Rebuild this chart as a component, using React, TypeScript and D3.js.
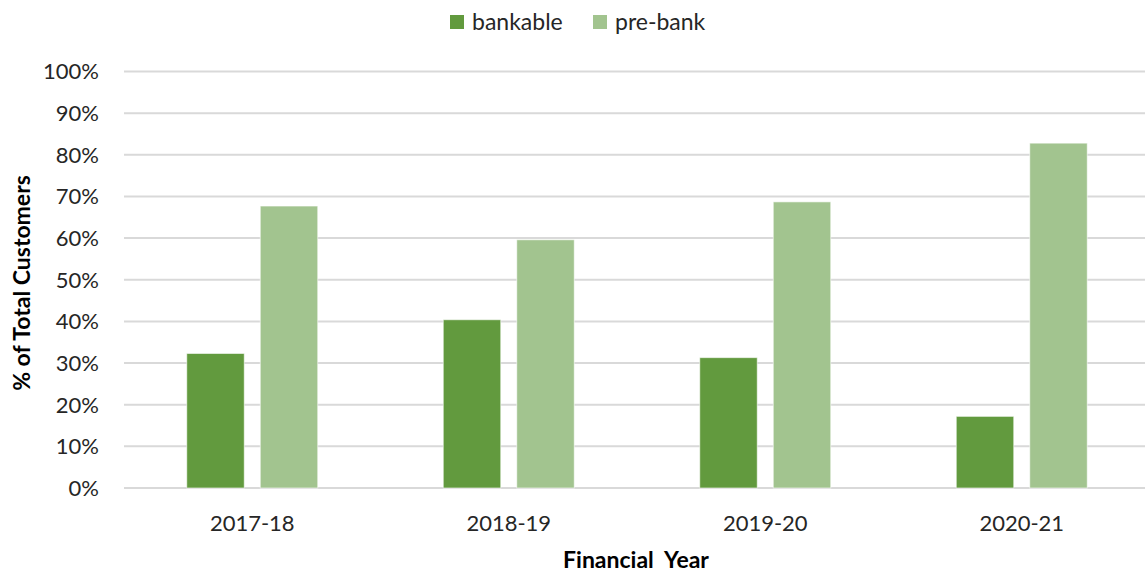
import React from "react";
import * as d3 from "d3";

const categories = ["2017-18", "2018-19", "2019-20", "2020-21"];
const bankable = [32.3, 40.4, 31.3, 17.2];
const prebank = [67.7, 59.6, 68.7, 82.8];
const yTicks = [0, 10, 20, 30, 40, 50, 60, 70, 80, 90, 100];
const seriesNames = ["bankable", "pre-bank"];
const colors = ["#629A3E", "#A2C48F"];

const W = 1145;
const H = 572;
const FONT = "Lato, 'Open Sans', sans-serif";

export default function App() {
  const x = d3.scaleBand<string>().domain(categories).range([124, 1150]).paddingInner(0).paddingOuter(0);
  const y = d3.scaleLinear().domain([0, 100]).range([488, 71.5]);
  const barW = 57.5;
  const gap = 16;
  const series = [bankable, prebank];

  return (
    <svg width={W} height={H} style={{ position: "absolute", left: 0, top: 0, background: "#fff" }} fontFamily={FONT}>
      {yTicks.map((t) => (
        <g key={t}>
          <line x1={124} x2={1145} y1={y(t)} y2={y(t)} stroke="#d9d9d9" strokeWidth={2} />
          <text x={99} y={y(t)} dy="0.36em" textAnchor="end" fontSize={22} fill="#262626">
            {t}%
          </text>
        </g>
      ))}
      {categories.map((c, i) => {
        const cx = (x(c) as number) + x.bandwidth() / 2;
        return (
          <g key={c}>
            {series.map((s, j) => {
              const bx = j === 0 ? cx - gap / 2 - barW : cx + gap / 2;
              return (
                <rect
                  key={j}
                  x={bx}
                  y={y(s[i])}
                  width={barW}
                  height={y(0) - y(s[i])}
                  fill={colors[j]}
                  stroke="#ffffff"
                  strokeOpacity={0.6}
                  strokeWidth={1}
                />
              );
            })}
            <text x={cx} y={523} dy="0.36em" textAnchor="middle" fontSize={22} fill="#262626">
              {c}
            </text>
          </g>
        );
      })}
      <text x={636} y={560} dy="0.36em" textAnchor="middle" fontSize={23} fontWeight="bold" fill="#000" style={{ whiteSpace: "pre" }}>
        Financial  Year
      </text>
      <text
        transform={`translate(22,283) rotate(-90)`}
        dy="0.36em"
        textAnchor="middle"
        fontSize={23}
        fontWeight="bold"
        fill="#000"
      >
        % of Total Customers
      </text>
      {seriesNames.map((n, j) => {
        const lx = j === 0 ? 450 : 593;
        return (
          <g key={n}>
            <rect x={lx} y={15} width={14} height={14} fill={colors[j]} />
            <text x={lx + 22} y={22} dy="0.36em" fontSize={23} fill="#262626">
              {n}
            </text>
          </g>
        );
      })}
    </svg>
  );
}
